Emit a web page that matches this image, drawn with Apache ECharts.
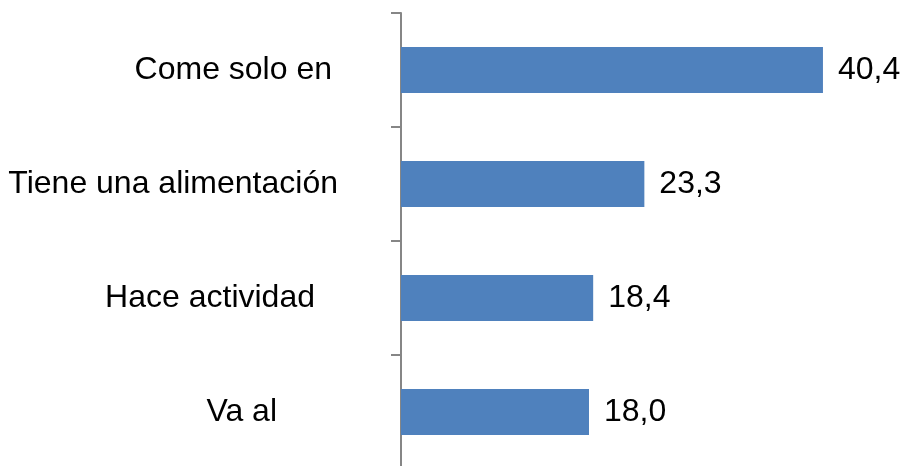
<!DOCTYPE html>
<html>
<head>
<meta charset="utf-8">
<script src="https://cdn.jsdelivr.net/npm/echarts@6/dist/echarts.min.js"></script>
<style>
  html, body { margin: 0; padding: 0; background: #fff; }
  #chart { width: 907px; height: 466px; }
</style>
</head>
<body>
<div id="chart"></div>
<script>
  // categories top to bottom
  const categories = ['Come solo en', 'Tiene una alimentación', 'Hace actividad', 'Va al'];
  const values = [40.4, 23.3, 18.4, 18.0];
  // extra space right of each label, as in the original
  const labelPadRight = [6, 0, 23, 61];

  const rich = {};
  labelPadRight.forEach((p, i) => {
    rich['r' + i] = {
      fontFamily: 'Liberation Sans, Arial, sans-serif',
      fontSize: 32,
      color: '#000',
      padding: [0, p, 0, 0],
    };
  });

  const chart = echarts.init(document.getElementById('chart'));
  chart.setOption({
    animation: false,
    grid: {
      left: 401,
      top: 13,
      width: 470,
      height: 456,
      containLabel: false,
      outerBoundsMode: 'none',
    },
    xAxis: {
      type: 'value',
      min: 0,
      max: 45,
      show: false,
    },
    yAxis: {
      type: 'category',
      inverse: true,
      data: categories,
      axisLine: {
        show: true,
        lineStyle: { color: '#868686', width: 2 },
      },
      axisTick: {
        show: true,
        length: 10,
        lineStyle: { color: '#868686', width: 2 },
      },
      axisLabel: {
        margin: 63,
        formatter: (v, i) => '{r' + i + '|' + v + '}',
        rich: rich,
      },
      splitLine: { show: false },
    },
    series: [
      {
        type: 'bar',
        data: values,
        barWidth: 46,
        itemStyle: { color: '#4F81BD' },
        label: {
          show: true,
          position: 'right',
          distance: 15,
          fontFamily: 'Liberation Sans, Arial, sans-serif',
          fontSize: 32,
          color: '#000',
          formatter: (p) => p.value.toFixed(1).replace('.', ','),
        },
      },
    ],
  });
</script>
</body>
</html>
